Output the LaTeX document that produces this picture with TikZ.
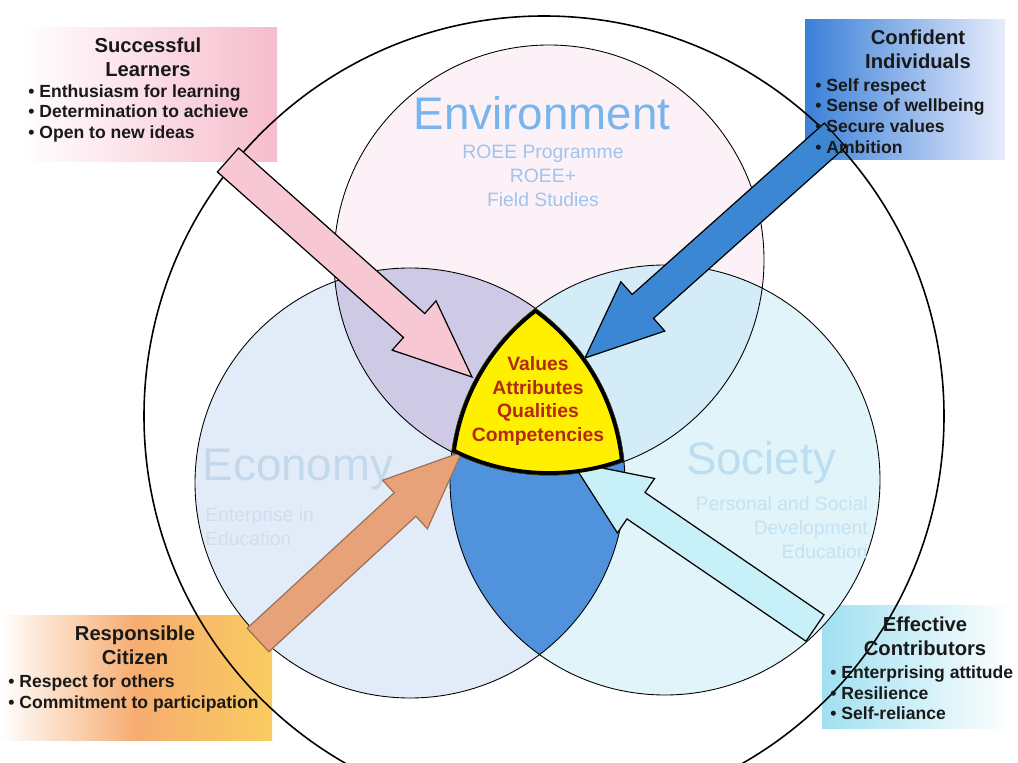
\documentclass[tikz,border=0pt]{standalone}
\usepackage{fontspec}
\setmainfont{Liberation Sans}
\usepackage{tikz}
\usetikzlibrary{calc,positioning}
\definecolor{learnpink}{RGB}{246,188,204}
\definecolor{confblue}{RGB}{58,128,216}
\definecolor{confpale}{RGB}{232,236,252}
\definecolor{citorange}{RGB}{246,172,112}
\definecolor{cityellow}{RGB}{249,204,96}
\definecolor{contcyan}{RGB}{160,224,240}
\definecolor{envfill}{RGB}{252,241,246}
\definecolor{ecofill}{RGB}{226,236,248}
\definecolor{socfill}{RGB}{224,244,250}
\definecolor{envecofill}{RGB}{206,202,230}
\definecolor{envsocfill}{RGB}{212,236,248}
\definecolor{lensfill}{RGB}{80,146,220}
\definecolor{coreyellow}{RGB}{255,240,0}
\definecolor{coretext}{RGB}{180,40,20}
\definecolor{envtext}{RGB}{120,180,238}
\definecolor{envsubtext}{RGB}{160,196,238}
\definecolor{ecotext}{RGB}{196,216,236}
\definecolor{ecosubtext}{RGB}{206,222,240}
\definecolor{soctext}{RGB}{188,222,240}
\definecolor{socsubtext}{RGB}{196,226,242}
\definecolor{arrowpink}{RGB}{247,200,212}
\definecolor{arrowblue}{RGB}{60,135,212}
\definecolor{arroworange}{RGB}{232,162,122}
\definecolor{arrowcyan}{RGB}{200,240,248}

\begin{document}
\begin{tikzpicture}[every node/.style={inner sep=0pt},
  boxtitle/.style={font=\fontsize{11.5}{13.6}\selectfont\bfseries,align=center,text=black!90},
  boxlist/.style={font=\fontsize{10}{11.9}\selectfont\bfseries,align=left,anchor=north west,text=black!90},
  bigword/.style={font=\fontsize{26}{30}\selectfont},
  subword/.style={font=\fontsize{11}{13.6}\selectfont}]
  \useasboundingbox (0,0) rectangle (20.36,15.24);
  \clip (0,0) rectangle (20.36,15.24);
  % shaded boxes in the four corners
  \shade[left color=white,right color=learnpink] (0.4,12.0) rectangle (5.54,14.68);
  \shade[left color=confblue,right color=confpale] (16.1,12.04) rectangle (20.1,14.84);
  \shade[left color=white,right color=cityellow,middle color=citorange] (0,0.44) rectangle (5.44,2.94);
  \shade[left color=contcyan,right color=white] (16.44,0.68) rectangle (20.24,3.14);
  % circles and their overlaps
  \coordinate (whole) at (10.88,6.92);
  \coordinate (env) at (10.98,10.04);
  \coordinate (eco) at (8.2,5.58);
  \coordinate (soc) at (13.3,5.64);
  \fill[envfill] (env) circle (4.3);
  \fill[ecofill] (eco) circle (4.3);
  \fill[socfill] (soc) circle (4.3);
  \begin{scope}
    \clip (env) circle (4.3);
    \fill[envecofill] (eco) circle (4.3);
    \fill[envsocfill] (soc) circle (4.3);
  \end{scope}
  \begin{scope}
    \clip (eco) circle (4.3);
    \fill[lensfill] (soc) circle (4.3);
  \end{scope}
  \draw[line width=0.9pt] (whole) circle (8);
  \draw[line width=0.5pt] (env) circle (4.3) (eco) circle (4.3) (soc) circle (4.3);
  % circle names
  \node[bigword,text=envtext] (envname) at (10.84,12.98) {Environment};
  \node[subword,text=envsubtext,align=center] (envsub) at (10.86,11.72) {ROEE Programme\\ROEE+\\Field Studies};
  \node[bigword,text=ecotext] (econame) at (5.96,5.84) {Economy};
  \node[subword,text=ecosubtext,align=left,anchor=north west] (ecosub) at (4.1,5.1) {Enterprise in\\Education};
  \node[bigword,text=soctext] (socname) at (15.22,5.98) {Society};
  \node[subword,text=socsubtext,align=right,anchor=north east] (socsub) at (17.36,5.32) {Personal and Social\\Development\\Education};
  % block arrows from the boxes to the middle
  \coordinate (learnTail) at (4.56,12.04);  \coordinate (learnTip) at (9.44,7.7);
  \coordinate (confTail) at (16.7,12.54);   \coordinate (confTip) at (11.7,8.08);
  \coordinate (citTail) at (5.16,2.44);     \coordinate (citTip) at (9.24,6.2);
  \coordinate (contTail) at (16.3,2.68);    \coordinate (contTip) at (11.44,6.0);
  \foreach \a/\b/\f/\d in {learnTail/learnTip/arrowpink/black, confTail/confTip/arrowblue/black,
      citTail/citTip/arroworange/arroworange!70!black, contTail/contTip/arrowcyan/black} {
    \coordinate (hb) at ($(\b)!1.55cm!(\a)$);
    \filldraw[fill=\f,draw=\d,line width=0.7pt,line join=miter]
      ($(\a)!0.32cm!90:(\b)$) -- ($(hb)!0.32cm!90:(\b)$) -- ($(hb)!0.66cm!90:(\b)$) -- (\b)
      -- ($(hb)!0.66cm!-90:(\b)$) -- ($(hb)!0.32cm!-90:(\b)$) -- ($(\a)!0.32cm!-90:(\b)$) -- cycle;
  }
  % yellow core where all three circles meet
  \begin{scope}
    \clip (env) circle (4.3);
    \clip (eco) circle (4.3);
    \clip (soc) circle (4.3);
    \fill[coreyellow] (env) circle (4.3);
    \draw[line width=4.4pt] (env) circle (4.3) (eco) circle (4.3) (soc) circle (4.3);
  \end{scope}
  \node[font=\fontsize{11}{13.6}\selectfont\bfseries,text=coretext,align=center] (core) at (10.76,7.22) {Values\\Attributes\\Qualities\\Competencies};
  % box texts
  \node[boxtitle] (learners) at (2.96,14.09) {Successful\\Learners};
  \node[boxlist] (learnlist) at (0.56,13.56) {• Enthusiasm for learning\\• Determination to achieve\\• Open to new ideas};
  \node[boxtitle] (confident) at (18.36,14.26) {Confident\\Individuals};
  \node[boxlist] (conflist) at (16.3,13.68) {• Self respect\\• Sense of wellbeing\\• Secure values\\• Ambition};
  \node[boxtitle] (citizen) at (2.7,2.34) {Responsible\\Citizen};
  \node[boxlist] (citlist) at (0.16,1.76) {• Respect for others\\• Commitment to participation};
  \node[boxtitle] (contrib) at (18.5,2.52) {Effective\\Contributors};
  \node[boxlist] (contlist) at (16.6,1.94) {• Enterprising attitude\\• Resilience\\• Self-reliance};
\end{tikzpicture}
\end{document}
